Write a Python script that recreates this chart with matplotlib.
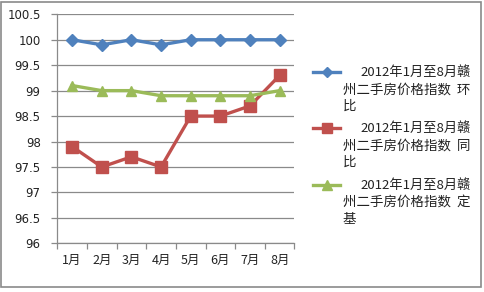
import matplotlib.pyplot as plt
from matplotlib.lines import Line2D
from matplotlib.patches import Rectangle

plt.rcParams['font.family'] = ['Noto Sans CJK SC', 'DejaVu Sans']

months = ['1月', '2月', '3月', '4月', '5月', '6月', '7月', '8月']
huanbi = [100.0, 99.9, 100.0, 99.9, 100.0, 100.0, 100.0, 100.0]
tongbi = [97.9, 97.5, 97.7, 97.5, 98.5, 98.5, 98.7, 99.3]
dingji = [99.1, 99.0, 99.0, 98.9, 98.9, 98.9, 98.9, 99.0]
labels = ['2012年1月至8月赣州二手房价格指数 环比',
          '2012年1月至8月赣州二手房价格指数 同比',
          '2012年1月至8月赣州二手房价格指数 定基']
yticks = [96, 96.5, 97, 97.5, 98, 98.5, 99, 99.5, 100, 100.5]

colors = ['#4F81BD', '#C0504D', '#9BBB59']
markers = ['D', 's', '^']
msizes = [6.5, 8, 7.5]

W, H = 485, 292
fig = plt.figure(figsize=(W / 100, H / 100), dpi=100)
ax = fig.add_axes([57.3 / W, 1 - 243.3 / H, (294.5 - 57.3) / W, (243.3 - 14.3) / H])

x = list(range(len(months)))
for vals, c, m, ms in zip([huanbi, tongbi, dingji], colors, markers, msizes):
    ax.plot(x, vals, color=c, lw=2.4, marker=m, ms=ms, mec=c, mfc=c, zorder=3)

ax.set_xlim(-0.5, len(months) - 0.5)
ax.set_ylim(96, 100.5)
ax.set_yticks(yticks)
ax.set_yticklabels([f'{v:g}' for v in yticks], fontsize=8.5, family='DejaVu Sans', color='#222222')
ax.yaxis.grid(True, color='#8a8a8a', lw=0.9)
ax.set_axisbelow(True)

ax.set_xticks(x)
ax.set_xticklabels(months, fontsize=9, color='#222222')
ax.set_xticks([i - 0.5 for i in range(len(months) + 1)], minor=True)
ax.tick_params(axis='x', which='major', length=0, pad=8)
ax.tick_params(axis='x', which='minor', length=4, color='#8a8a8a', width=0.9)
ax.tick_params(axis='y', length=4, color='#8a8a8a', width=0.9, pad=8)

for s in ['top', 'right']:
    ax.spines[s].set_visible(False)
for s in ['left', 'bottom']:
    ax.spines[s].set_color('#8a8a8a')
    ax.spines[s].set_linewidth(0.9)

# legend drawn by hand to keep Excel's wrapped layout
entry_y = [72, 128, 185]
for lab, c, m, ms, yy in zip(labels, colors, markers, msizes, entry_y):
    fy = 1 - yy / H
    fig.add_artist(Line2D([313 / W, 340 / W], [fy, fy], color=c, lw=2.4,
                          transform=fig.transFigure))
    fig.add_artist(Line2D([326.5 / W], [fy], color=c, marker=m, ms=ms - 1,
                          mec=c, mfc=c, transform=fig.transFigure))
    first, rest = lab[:11], lab[11:]
    fig.text(360 / W, fy, first, fontsize=9.5, va='center', ha='left', color='#222222')
    fig.text(343 / W, 1 - (yy + 17.5) / H, rest[:-1].replace(' ', '  '), fontsize=9.7,
             va='center', ha='left', color='#222222')
    fig.text(343 / W, 1 - (yy + 34) / H, rest[-1], fontsize=9.7, va='center', ha='left', color='#222222')

fig.add_artist(Rectangle((1.5 / W, 1 - 287 / H), 480 / W, 285.5 / H, fill=False,
                         ec='#8a8a8a', lw=1.2, transform=fig.transFigure))

fig.savefig('out.png', dpi=100)
